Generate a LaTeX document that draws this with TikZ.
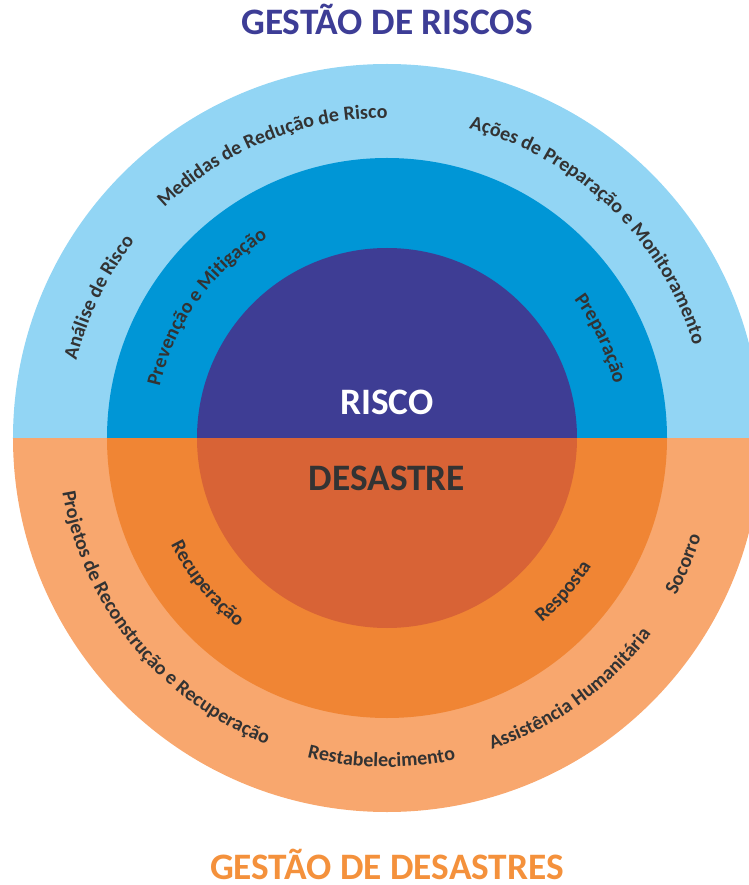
\documentclass[tikz,border=0pt]{standalone}
\usepackage{fontspec}
\setmainfont{Carlito}
\usetikzlibrary{decorations.text}
\definecolor{azulclaro}{RGB}{146,213,244}
\definecolor{azulmedio}{RGB}{0,150,214}
\definecolor{roxo}{RGB}{62,61,148}
\definecolor{laranjaclaro}{RGB}{248,167,110}
\definecolor{laranjamedio}{RGB}{240,133,52}
\definecolor{laranjaescuro}{RGB}{216,99,54}
\definecolor{cinza}{RGB}{51,51,51}
\definecolor{tituloazul}{RGB}{61,61,150}
\definecolor{titulolaranja}{RGB}{244,145,60}
\newcommand\anelfont{\fontsize{15}{17}\selectfont\bfseries\color{cinza}}
\tikzset{
  titulo/.style={font=\fontsize{28}{32}\selectfont\bfseries, anchor=base, inner sep=0pt},
  acima/.style={decorate, decoration={text along path, text align=center, text/.expanded={|\noexpand\anelfont|#1}}},
}
\begin{document}
\begin{tikzpicture}[x=0.75pt,y=0.75pt]
  \def\ri{190} \def\rm{280} \def\re{374}
  \useasboundingbox (-387,-447) rectangle (362,438);
  \clip (-387,-447) rectangle (362,438);
  \foreach \r/\ca/\cb in {\re/azulclaro/laranjaclaro, \rm/azulmedio/laranjamedio, \ri/roxo/laranjaescuro} {
    \fill[\ca] (-\r,0) arc[start angle=180, end angle=0, radius=\r] -- cycle;
    \fill[\cb] (-\r,0) arc[start angle=180, end angle=360, radius=\r] -- cycle;
  }
  \node[titulo, tituloazul] (gestaoriscos) at (0,403) {GESTÃO DE RISCOS};
  \node[titulo, titulolaranja] (gestaodesastres) at (0,-441) {GESTÃO DE DESASTRES};
  \node[titulo, white] (risco) at (0,23) {RISCO};
  \node[titulo, cinza] (desastre) at (0,-52) {DESASTRE};
  \foreach \a/\rr/\txt in {154/320/Análise de Risco, 112/320/Medidas de Redução de Risco,
      46/320/Ações de Preparação e Monitoramento, 144/233/Prevenção e Mitigação, 25/233/Preparação}
    \path[acima=\txt] (\a+60:\rr) arc[start angle=\a+60, end angle=\a-60, radius=\rr];
  \foreach \a/\rr/\txt in {219/329/Projetos de Reconstrução e Recuperação, 269/329/Restabelecimento,
      306/329/Assistência Humanitária, 337/329/Socorro, 219/241/Recuperação, 319/241/Resposta}
    \path[acima=\txt] (\a-60:\rr) arc[start angle=\a-60, end angle=\a+60, radius=\rr];
\end{tikzpicture}
\end{document}
